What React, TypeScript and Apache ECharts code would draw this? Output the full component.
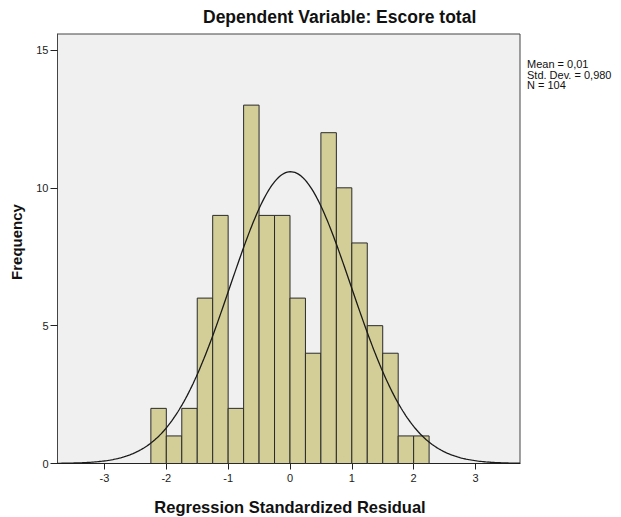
import React, { useEffect, useRef } from "react";
import * as echarts from "echarts";

const TITLE = "Dependent Variable: Escore total";
const X_TITLE = "Regression Standardized Residual";
const Y_TITLE = "Frequency";
const STATS_LINES = ["Mean = 0,01", "Std. Dev. = 0,980", "N = 104"];

const MEAN = 0.01;
const SD = 0.98;
const N = 104;
const BIN_WIDTH = 0.25;
const BIN_STARTS = [-2.25, -2.0, -1.75, -1.5, -1.25, -1.0, -0.75, -0.5, -0.25, 0.0, 0.25, 0.5, 0.75, 1.0, 1.25, 1.5, 1.75, 2.0];
const COUNTS = [2, 1, 2, 6, 9, 2, 13, 9, 9, 6, 4, 12, 10, 8, 5, 4, 1, 1];
const X_TICKS = [-3, -2, -1, 0, 1, 2, 3];
const Y_TICKS = [0, 5, 10, 15];
const X_MIN = -3.76;
const X_MAX = 3.72;
const Y_MAX = 15.58;

const FONT = "Arial, 'Liberation Sans', sans-serif";

export default function App() {
  const ref = useRef<HTMLDivElement>(null);
  useEffect(() => {
    if (!ref.current) return;
    const chart = echarts.init(ref.current, undefined, { renderer: "svg" });
    const barData = BIN_STARTS.map((s, i) => [s, s + BIN_WIDTH, COUNTS[i]]);
    // Normal density curve defined by the stated mean, SD and N
    const curve: number[][] = [];
    const steps = 300;
    for (let i = 0; i <= steps; i++) {
      const x = X_MIN + ((X_MAX - X_MIN) * i) / steps;
      const z = (x - MEAN) / SD;
      const y = (N * BIN_WIDTH * Math.exp(-0.5 * z * z)) / (SD * Math.sqrt(2 * Math.PI));
      curve.push([x, y]);
    }
    chart.setOption({
      animation: false,
      backgroundColor: "#ffffff",
      grid: {
        left: 57.5,
        right: 101,
        top: 34,
        bottom: 53.5,
        show: true,
        backgroundColor: "#F0F0F0",
        borderColor: "#444",
        borderWidth: 1,
      },
      xAxis: {
        type: "value",
        min: X_MIN,
        max: X_MAX,
        splitLine: { show: false },
        axisLine: { show: true, onZero: false, lineStyle: { color: "#222", width: 1 } },
        axisTick: { show: true, customValues: X_TICKS, length: 6, lineStyle: { color: "#222" } },
        axisLabel: { customValues: X_TICKS, fontSize: 11, color: "#222", fontFamily: FONT, margin: 9 },
      },
      yAxis: {
        type: "value",
        min: 0,
        max: Y_MAX,
        splitLine: { show: false },
        axisLine: { show: true, onZero: false, lineStyle: { color: "#444", width: 1 } },
        axisTick: { show: true, customValues: Y_TICKS, length: 7, lineStyle: { color: "#222" } },
        axisLabel: { customValues: Y_TICKS, fontSize: 11, color: "#222", fontFamily: FONT, margin: 9 },
      },
      series: [
        {
          type: "custom",
          data: barData,
          encode: { x: [0, 1], y: 2 },
          z: 2,
          renderItem: (params: any, api: any) => {
            const p0 = api.coord([api.value(0), api.value(2)]);
            const p1 = api.coord([api.value(1), 0]);
            return {
              type: "rect",
              shape: { x: p0[0], y: p0[1], width: p1[0] - p0[0], height: p1[1] - p0[1] },
              style: { fill: "#D3CE98", stroke: "#2a2a2a", lineWidth: 1 },
            };
          },
        },
        {
          type: "line",
          data: curve,
          showSymbol: false,
          symbol: "none",
          z: 3,
          lineStyle: { color: "#1a1a1a", width: 1.3 },
        },
      ],
      graphic: [
        {
          type: "text",
          x: 203,
          y: 16.5,
          style: { text: TITLE, font: `bold 17.5px ${FONT}`, fill: "#111", verticalAlign: "middle" },
        },
        {
          type: "text",
          x: 290,
          y: 507,
          style: { text: X_TITLE, font: `bold 16.5px ${FONT}`, fill: "#111", align: "center", verticalAlign: "middle" },
        },
        {
          type: "text",
          x: 16,
          y: 242,
          rotation: Math.PI / 2,
          style: { text: Y_TITLE, font: `bold 15px ${FONT}`, fill: "#111", align: "center", verticalAlign: "middle" },
        },
        ...STATS_LINES.map((t, i) => ({
          type: "text",
          x: 527,
          y: 64 + i * 10.5,
          style: { text: t, font: `11px ${FONT}`, fill: "#111", verticalAlign: "middle" },
        })),
      ],
    });
    return () => chart.dispose();
  }, []);
  return <div ref={ref} style={{ position: "absolute", left: 0, top: 0, width: 621, height: 517 }} />;
}
